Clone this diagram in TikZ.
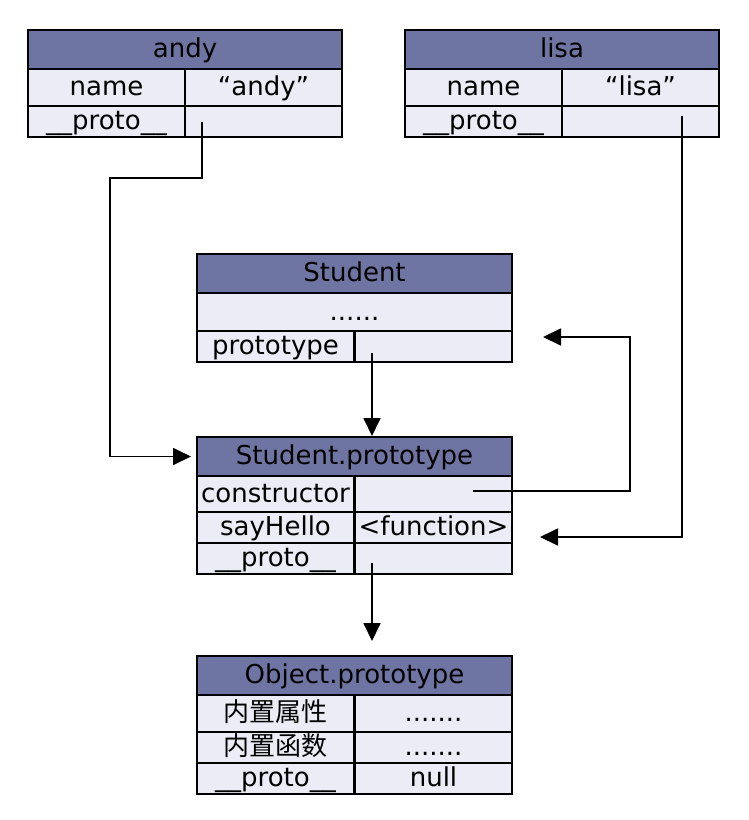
\documentclass[tikz,border=0pt]{standalone}
\usepackage{fontspec}
\setmainfont{DejaVu Sans}
\newfontfamily\cjk{Noto Sans CJK SC}
\usepackage{xcolor}
\usetikzlibrary{arrows.meta,calc}

\definecolor{headblue}{HTML}{6F75A2}
\definecolor{rowgray}{HTML}{EBECF6}

\newcommand{\moredots}{.......}

\tikzset{
	hd/.style={draw,fill=headblue,line width=2pt,inner sep=0pt,minimum height=39,text height=20pt,text depth=4pt},
	cl/.style={draw,fill=rowgray,line width=2pt,inner sep=0pt,minimum width=157,text height=20pt,text depth=4pt},
	ptr/.style={line width=1.8pt,-{Triangle[length=18pt,width=17pt]}}
}

\begin{document}
\begin{tikzpicture}[x=1pt,y=-1pt,font=\fontsize{26}{30}\selectfont]
	\useasboundingbox (0,0) rectangle (748,820);
	
	% the two instances
	\foreach \t/\x in {andy/28,lisa/405}{
		\node[hd,minimum width=314] (\t-h) at (\x+157,49.5) {\t};
		\node[cl,minimum height=37] (\t-n) at (\x+78.5,87.5) {name};
		\node[cl,minimum height=37] (\t-v) at (\x+235.5,87.5) {“\t”};
		\node[cl,minimum height=31] (\t-p) at (\x+78.5,121.5) {\_\_proto\_\_};
		\node[cl,minimum height=31] (\t-q) at (\x+235.5,121.5) {};
	}
	
	% constructor
	\node[hd,minimum width=315] (stu-h) at (354.5,273) {Student};
	\node[cl,minimum width=315,minimum height=38] (stu-d) at (354.5,312) {......};
	\node[cl,minimum height=31] (stu-k) at (275.5,346.5) {prototype};
	\node[cl,minimum height=31] (stu-v) at (433.5,346.5) {};
	
	% Student.prototype
	\node[hd,minimum width=315] (sp-h) at (354.5,456.5) {Student.prototype};
	\foreach \k/\v/\y/\h [count=\i] in {constructor//494/36,sayHello/<function>/527.5/31,\_\_proto\_\_//558.5/31}{
		\node[cl,minimum height=\h] (sp-k\i) at (275.5,\y) {\k};
		\node[cl,minimum height=\h] (sp-v\i) at (433.5,\y) {\v};
	}
	
	% Object.prototype
	\node[hd,minimum width=315] (op-h) at (354.5,675.5) {Object.prototype};
	\foreach \k/\v/\y/\h [count=\i] in {{\cjk 内置属性}/\moredots/713.5/37,{\cjk 内置函数}/\moredots/747.5/31,\_\_proto\_\_/null/778.5/31}{
		\node[cl,minimum height=\h] (op-k\i) at (275.5,\y) {\k};
		\node[cl,minimum height=\h] (op-v\i) at (433.5,\y) {\v};
	}
	
	% pointers
	\coordinate (andy-dot) at ($(andy-q.west)+(18,0)$);
	\coordinate (andy-bend) at (110,178);
	\draw[ptr,shorten >=5pt] (andy-dot) |- (andy-bend) |- (sp-h.west);
	
	\coordinate (lisa-dot) at ($(lisa-q.west)+(121,-6)$);
	\coordinate (lisa-end) at (540,537);
	\draw[ptr] (lisa-dot) |- (lisa-end);
	
	\coordinate (con-dot) at ($(sp-v1.west)+(119,-3)$);
	\coordinate (con-bend) at (630,337);
	\coordinate (con-end) at (543,337);
	\draw[ptr] (con-dot) -| (con-bend) -- (con-end);
	
	\coordinate (stu-dot) at ($(stu-v.west)+(18,6)$);
	\draw[ptr] (stu-dot) -- (stu-dot |- sp-h.north);
	
	\coordinate (sp-dot) at ($(sp-v3.west)+(18,4)$);
	\draw[ptr] (sp-dot) -- ($(sp-dot |- op-h.north)+(0,-14)$);
\end{tikzpicture}
\end{document}
